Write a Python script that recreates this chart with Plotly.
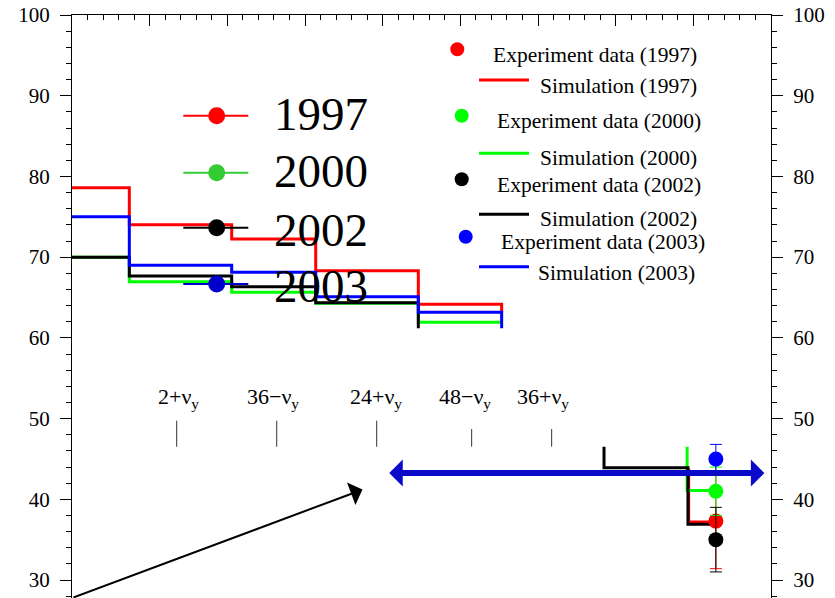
import plotly.graph_objects as go

# ---- simulated step curves (bunch length steps along the tune scan) ----
sim_1997_x = [0.0, 0.738, 2.056, 3.138, 4.459, 5.532, 5.532]
sim_1997_y = [78.6, 74.0, 72.25, 68.32, 64.16, 64.16, 63.2]

sim_2000_x = [0.0, 0.738, 2.056, 3.138, 4.459, 5.532]
sim_2000_y = [70.0, 66.96, 65.64, 64.28, 61.93, 61.93]

sim_2002_x = [0.0, 0.738, 2.056, 3.138, 4.459, 4.459]
sim_2002_y = [70.0, 67.66, 66.34, 64.35, 64.35, 61.18]

sim_2003_x = [0.0, 0.738, 2.056, 3.138, 4.459, 5.532, 5.532]
sim_2003_y = [75.0, 69.0, 68.12, 65.1, 63.16, 63.16, 61.18]

# lower branch of the simulated curves
low_1997_x = [7.94, 7.94, 8.29]
low_1997_y = [43.8, 37.2, 37.2]
low_2000_x = [7.92, 7.92, 8.29]
low_2000_y = [46.5, 41.1, 41.1]
low_2002_x = [6.85, 6.85, 7.931, 7.931, 8.29]
low_2002_y = [46.5, 43.9, 43.9, 36.9, 36.9]

# ---- measured values at the working point ----
exp_x = 8.29
exp_years = ["1997", "2000", "2002", "2003"]
exp_vals = [37.3, 41.0, 35.0, 45.0]
exp_errs = [5.9, 3.0, 4.0, 1.8]

# ---- resonance lines ----
res_x = [1.348, 2.636, 3.923, 5.146, 6.176]
res_labels = ["2+ν<sub>y</sub>", "36−ν<sub>y</sub>", "24+ν<sub>y</sub>",
              "48−ν<sub>y</sub>", "36+ν<sub>y</sub>"]
res_label_shift = [2, -4, -1, -7, -9]
res_bottom = [46.51, 46.51, 46.51, 46.51, 46.51]
res_top = [49.73, 49.73, 49.73, 48.7, 48.7]

colors = {"1997": "#ff0000", "2000": "#00ff00", "2002": "#000000", "2003": "#0000ff"}
big_colors = {"1997": "#ff0000", "2000": "#33cc33", "2002": "#000000", "2003": "#0000cc"}

W, H = 835, 598
ML, MR, MT, MB = 72, 64, 15, 0
PW, PH = W - ML - MR, H - MT - MB
YMIN, YMAX = 27.77, 100.0
SERIF = "Liberation Serif"


def pxx(p):
    return (p - ML) / PW


def pxy(p):
    return (H - MB - p) / PH


fig = go.Figure()

for yr, xs, ys in [("1997", sim_1997_x, sim_1997_y), ("2000", sim_2000_x, sim_2000_y),
                   ("2002", sim_2002_x, sim_2002_y), ("2003", sim_2003_x, sim_2003_y)]:
    fig.add_trace(go.Scatter(x=xs, y=ys, mode="lines", line=dict(color=colors[yr], width=3, shape="hv"),
                             showlegend=False, hoverinfo="skip"))

for yr, xs, ys in [("1997", low_1997_x, low_1997_y), ("2000", low_2000_x, low_2000_y),
                   ("2002", low_2002_x, low_2002_y)]:
    fig.add_trace(go.Scatter(x=xs, y=ys, mode="lines", line=dict(color=colors[yr], width=3),
                             showlegend=False, hoverinfo="skip"))

for yr, v, e in zip(exp_years, exp_vals, exp_errs):
    fig.add_trace(go.Scatter(x=[exp_x], y=[v], mode="markers",
                             marker=dict(color=colors[yr], size=15),
                             error_y=dict(type="data", array=[e], color=colors[yr], thickness=1, width=6),
                             showlegend=False))

# invisible trace so the right-hand axis is drawn
fig.add_trace(go.Scatter(x=[0], y=[50], yaxis="y2", mode="markers", marker=dict(opacity=0),
                         showlegend=False, hoverinfo="skip"))

shapes = []
annotations = []

# resonance markers
for x, lab, sh, y0, y1 in zip(res_x, res_labels, res_label_shift, res_bottom, res_top):
    shapes.append(dict(type="line", xref="x", yref="y", x0=x, x1=x, y0=y0, y1=y1,
                       line=dict(color="#333333", width=1)))
    annotations.append(dict(x=x, y=52.55, xref="x", yref="y", text=lab, showarrow=False, xshift=sh,
                            font=dict(family=SERIF, size=22, color="black"),
                            xanchor="center", yanchor="middle"))

# arrows
annotations.append(dict(x=3.74, y=41.2, ax=0.0, ay=YMIN, xref="x", yref="y", axref="x", ayref="y",
                        text="", showarrow=True, arrowhead=1, arrowsize=2, arrowwidth=2,
                        arrowcolor="black", standoff=0))
annotations.append(dict(x=8.915, y=43.25, ax=4.065, ay=43.25, xref="x", yref="y", axref="x", ayref="y",
                        text="", showarrow=True, arrowhead=1, arrowsize=0.75, arrowwidth=6,
                        arrowside="end+start", arrowcolor="#0a0ac8", standoff=0, startstandoff=0))

# big year key on the left
big_rows = [("1997", 115.7, 113.5), ("2000", 172.7, 171.0), ("2002", 227.7, 230.0), ("2003", 284.0, 286.0)]
for yr, ly, ty in big_rows:
    shapes.append(dict(type="line", xref="paper", yref="paper", x0=pxx(183.3), x1=pxx(248.3),
                       y0=pxy(ly), y1=pxy(ly), line=dict(color=big_colors[yr], width=2)))
    r = 8.5
    shapes.append(dict(type="circle", xref="paper", yref="paper", x0=pxx(216.7 - r), x1=pxx(216.7 + r),
                       y0=pxy(ly + r), y1=pxy(ly - r), fillcolor=big_colors[yr],
                       line=dict(color=big_colors[yr], width=0)))
    annotations.append(dict(x=pxx(272), y=pxy(ty), xref="paper", yref="paper", text=yr, showarrow=False,
                            xanchor="left", yanchor="middle",
                            font=dict(family=SERIF, size=47, color="black")))

# series key on the right
key_rows = [("1997", 457.3, 49.3, 491, 55, 80, 538, 86),
            ("2000", 461.7, 115.7, 495, 120.7, 153.3, 538, 158.3),
            ("2002", 461.7, 179.3, 495, 185, 214.3, 538, 219.3),
            ("2003", 465.7, 236.7, 499, 241.7, 266.7, 536, 272.7)]
for yr, dx, dy, etx, ety, ly, stx, sty in key_rows:
    r = 7
    shapes.append(dict(type="circle", xref="paper", yref="paper", x0=pxx(dx - r), x1=pxx(dx + r),
                       y0=pxy(dy + r), y1=pxy(dy - r), fillcolor=colors[yr],
                       line=dict(color=colors[yr], width=0)))
    shapes.append(dict(type="line", xref="paper", yref="paper", x0=pxx(479), x1=pxx(529),
                       y0=pxy(ly), y1=pxy(ly), line=dict(color=colors[yr], width=3)))
    annotations.append(dict(x=pxx(etx), y=pxy(ety), xref="paper", yref="paper",
                            text=f"Experiment data ({yr})", showarrow=False, xanchor="left", yanchor="middle",
                            font=dict(family=SERIF, size=21.5, color="black")))
    annotations.append(dict(x=pxx(stx), y=pxy(sty), xref="paper", yref="paper",
                            text=f"Simulation ({yr})", showarrow=False, xanchor="left", yanchor="middle",
                            font=dict(family=SERIF, size=21.5, color="black")))

yaxis_common = dict(range=[YMIN, YMAX], dtick=10, tick0=0, ticks="outside", ticklen=11, tickwidth=1,
                    tickcolor="black", showline=True, linecolor="black", linewidth=1, showgrid=False,
                    zeroline=False, minor=dict(ticks="outside", ticklen=5, dtick=2, tickcolor="black"),
                    tickfont=dict(family=SERIF, size=21, color="black"), ticklabelstandoff=6)

fig.update_layout(
    width=W, height=H,
    margin=dict(l=ML, r=MR, t=MT, b=MB, pad=0),
    paper_bgcolor="white", plot_bgcolor="white",
    xaxis=dict(range=[0, 9], side="top", dtick=1, tick0=0, ticks="inside", ticklen=11, tickcolor="black",
               showticklabels=False, showline=True, linecolor="black", linewidth=1, showgrid=False,
               zeroline=False, minor=dict(ticks="inside", ticklen=5, dtick=0.2, tickcolor="black")),
    yaxis=dict(side="left", **yaxis_common),
    yaxis2=dict(side="right", overlaying="y", **yaxis_common),
    shapes=shapes,
    annotations=annotations,
    showlegend=False,
)

fig.write_html("out.html")
